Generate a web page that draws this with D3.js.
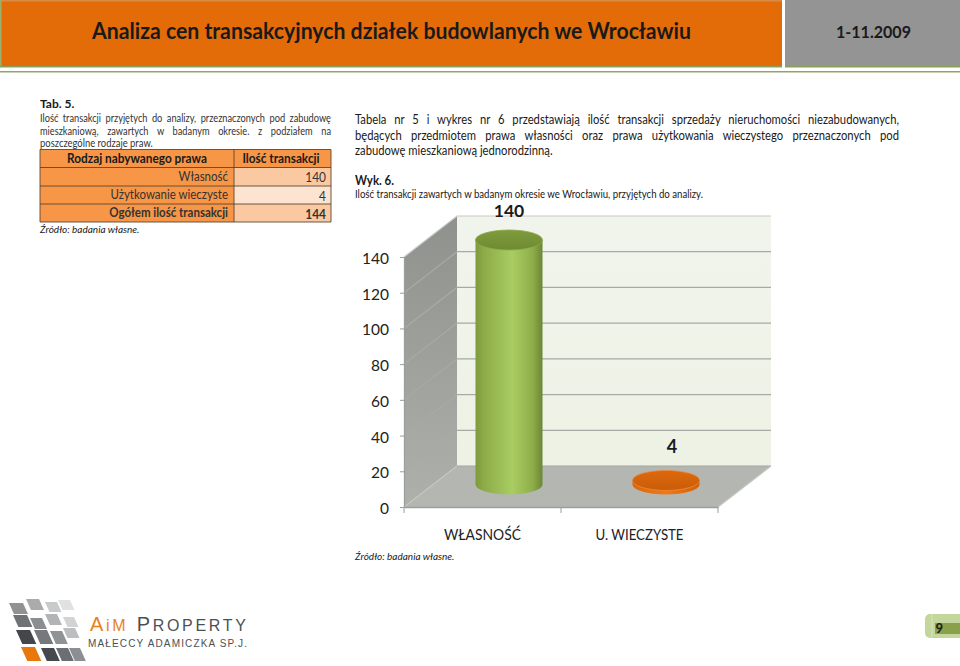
<!DOCTYPE html>
<html>
<head>
<meta charset="utf-8">
<script src="https://cdn.jsdelivr.net/npm/d3@7"></script>
<style>
  html, body { margin: 0; padding: 0; background: #fff; }
  svg { display: block; }
  text { font-family: Lato, "Open Sans", sans-serif; fill: #1a1a1a; }
</style>
</head>
<body>
<svg id="page" width="960" height="666"></svg>
<script>
// chart values
const categories = ["WŁASNOŚĆ", "U. WIECZYSTE"];
const values = [140, 4];
const yTicks = [0, 20, 40, 60, 80, 100, 120, 140];

// table values
const tableHeader = ["Rodzaj nabywanego prawa", "Ilość transakcji"];
const tableLabels = ["Własność", "Użytkowanie wieczyste", "Ogółem ilość transakcji"];
const tableValues = [140, 4, 144];

const svg = d3.select("#page");
const defs = svg.append("defs");

function gradient(id, stops, vertical) {
    const g = defs.append("linearGradient").attr("id", id)
        .attr("x1", 0).attr("y1", 0)
        .attr("x2", vertical ? 0 : 1).attr("y2", vertical ? 1 : 0);
    stops.forEach(s => g.append("stop").attr("offset", s[0]).attr("stop-color", s[1]));
}
gradient("greenBody", [[0, "#7d9a3d"], [0.12, "#8dab48"], [0.55, "#a9cd62"], [0.85, "#8fae4a"], [1, "#6d8635"]]);
gradient("greenCap", [[0, "#7f9b3c"], [1, "#6f8b33"]], true);
gradient("orangeBody", [[0, "#d9660c"], [0.5, "#f07a16"], [1, "#d2600a"]]);
gradient("orangeCap", [[0, "#dd690d"], [1, "#c95c08"]], true);
gradient("leftWall", [[0, "#8f918d"], [1, "#aeb0ac"]], true);
gradient("backWall", [[0, "#f1f4ec"], [1, "#edf2e4"]], true);

function label(x, y, str, size, opts) {
    opts = opts || {};
    const k = opts.squeeze || 1;
    const t = svg.append("text")
        .attr("transform", `translate(${x},${y}) scale(${k},1)`)
        .attr("text-anchor", opts.anchor || "start")
        .style("font-size", size + "px")
        .style("font-weight", opts.weight || 400)
        .style("font-style", opts.italic ? "italic" : "normal")
        .text(str);
    if (opts.fill) t.style("fill", opts.fill);
    if (opts.width) {
        t.attr("textLength", opts.width).attr("lengthAdjust", "spacingAndGlyphs");
    }
    if (opts.justify) {
        // stretch the gaps between words only, like justified text
        const gaps = str.split(" ").length - 1;
        t.style("word-spacing", (opts.justify / k - t.node().getComputedTextLength()) / gaps + "px");
    }
    return t;
}

// header bars
svg.append("rect").attr("x", 0).attr("y", 0).attr("width", 782).attr("height", 66).attr("fill", "#e36c09");
svg.append("rect").attr("x", 0).attr("y", 0).attr("width", 782).attr("height", 1.5).attr("fill", "#d98b45");
svg.append("rect").attr("x", 0).attr("y", 0).attr("width", 1.5).attr("height", 66).attr("fill", "#9bb06a");
svg.append("rect").attr("x", 0).attr("y", 66).attr("width", 782).attr("height", 1.5).attr("fill", "#8aa05a");
svg.append("rect").attr("x", 785).attr("y", 0).attr("width", 175).attr("height", 66).attr("fill", "#949494");
svg.append("rect").attr("x", 785).attr("y", 66).attr("width", 175).attr("height", 1.5).attr("fill", "#8aa05a");
svg.append("rect").attr("x", 0).attr("y", 71).attr("width", 960).attr("height", 1.5).attr("fill", "#8fa562");
label(92, 39, "Analiza cen transakcyjnych działek budowlanych we Wrocławiu", 22, { weight: 700, width: 599 });
label(836, 38, "1-11.2009", 17.5, { weight: 700, width: 75 });

// left text block
label(40, 108, "Tab. 5.", 12, { weight: 700 });
label(40, 122, "Ilość transakcji przyjętych do analizy, przeznaczonych pod zabudowę", 10.5, { justify: 291, fill: "#333", squeeze: 0.88 });
label(40, 134.5, "mieszkaniową, zawartych w badanym okresie. z podziałem na", 10.5, { justify: 291, fill: "#333", squeeze: 0.88 });
label(40, 147, "poszczególne rodzaje  praw.", 10.5, { fill: "#333", squeeze: 0.9 });

// table
const tableX = [40, 234, 331];
const rowY = [149.5, 167.5, 186, 204, 222];
const valueFills = ["#fbc9a1", "#fde4d1", "#fbc9a1"];

svg.append("rect").attr("x", tableX[0]).attr("y", rowY[0])
    .attr("width", tableX[2] - tableX[0]).attr("height", rowY[4] - rowY[0]).attr("fill", "#f79646");
svg.selectAll(".valueCell").data(tableValues).join("rect").attr("class", "valueCell")
    .attr("x", tableX[1]).attr("y", (d, i) => rowY[i + 1])
    .attr("width", tableX[2] - tableX[1]).attr("height", (d, i) => rowY[i + 2] - rowY[i + 1])
    .attr("fill", (d, i) => valueFills[i]);
svg.selectAll(".rowLine").data(rowY).join("line").attr("class", "rowLine")
    .attr("x1", tableX[0]).attr("x2", tableX[2]).attr("y1", d => d).attr("y2", d => d)
    .attr("stroke", "#5a4632").attr("stroke-width", 0.9);
svg.selectAll(".colLine").data(tableX).join("line").attr("class", "colLine")
    .attr("x1", d => d).attr("x2", d => d).attr("y1", rowY[0]).attr("y2", rowY[4])
    .attr("stroke", "#5a4632").attr("stroke-width", 0.9);

label(137, 162.5, tableHeader[0], 13, { weight: 700, anchor: "middle", squeeze: 0.91 });
label(281, 162.5, tableHeader[1], 13, { weight: 700, anchor: "middle", squeeze: 0.91 });
tableLabels.forEach((d, i) => {
    const bold = i === tableLabels.length - 1;
    label(228, rowY[i + 1] + 13, d, 12.5, { anchor: "end", weight: bold ? 700 : 400, fill: "#333", squeeze: 0.92 });
    label(326, rowY[i + 1] + 14.5, tableValues[i], 12.5, { anchor: "end", weight: bold ? 700 : 400, fill: "#333", squeeze: 0.95 });
});
label(40, 233, "Źródło: badania własne.", 10, { italic: true });

// right text block
label(355, 124, "Tabela nr 5 i wykres nr 6 przedstawiają ilość transakcji sprzedaży nieruchomości niezabudowanych,", 12.5, { justify: 544, squeeze: 0.9 });
label(355, 139.5, "będących przedmiotem prawa własności oraz prawa użytkowania wieczystego przeznaczonych pod", 12.5, { justify: 544, squeeze: 0.9 });
label(355, 154.5, "zabudowę mieszkaniową jednorodzinną.", 12.5, { squeeze: 0.9 });
label(355, 185, "Wyk. 6.", 12.5, { weight: 700, squeeze: 0.92 });
label(355, 198, "Ilość transakcji zawartych  w badanym okresie we Wrocławiu, przyjętych do analizy.", 10.5, { width: 348 });

// 3d chart box: front edge uses the scales, depth shifts towards the back wall
const depth = { x: 53, y: -41 };
const x = d3.scaleBand().domain(categories).range([404, 718]);
const y = d3.scaleLinear().domain([0, 140]).range([507, 257]);
const yBar = d3.scaleLinear().domain([0, 140]).range([484.5, 237]);
const x0 = x.range()[0], x1 = x.range()[1];
const yBase = y(0), yTop = y(140);
const pts = a => a.map(p => p.join(",")).join(" ");

svg.append("polygon")
    .attr("points", pts([[x0 + depth.x, yTop + depth.y], [x1 + depth.x, yTop + depth.y], [x1 + depth.x, yBase + depth.y], [x0 + depth.x, yBase + depth.y]]))
    .attr("fill", "url(#backWall)");
svg.append("polygon")
    .attr("points", pts([[x0, yTop], [x0 + depth.x, yTop + depth.y], [x0 + depth.x, yBase + depth.y], [x0, yBase]]))
    .attr("fill", "url(#leftWall)");
svg.append("polygon")
    .attr("points", pts([[x0, yBase], [x0 + depth.x, yBase + depth.y], [x1 + depth.x, yBase + depth.y], [x1, yBase]]))
    .attr("fill", "#b4b6b2");

// gridlines on both walls
const grid = svg.append("g").attr("fill", "none").attr("stroke-width", 1.2);
grid.selectAll("polyline").data(yTicks.slice(1)).join("polyline")
    .attr("points", d => pts([[x0, y(d)], [x0 + depth.x, y(d) + depth.y], [x1 + depth.x, y(d) + depth.y]]))
    .attr("stroke", d => d === 140 ? "#c9cbc6" : "#a8aaa5");
grid.append("line").attr("x1", x0).attr("y1", yBase).attr("x2", x0 + depth.x).attr("y2", yBase + depth.y).attr("stroke", "#c4c6c2");
grid.append("line").attr("x1", x0 + depth.x).attr("y1", yBase + depth.y).attr("x2", x1 + depth.x).attr("y2", yBase + depth.y).attr("stroke", "#a3a5a1");
grid.append("line").attr("x1", x1).attr("y1", yBase).attr("x2", x1 + depth.x).attr("y2", yBase + depth.y).attr("stroke", "#c4c6c2");

// axes
const catWidths = [77, 88];
const yAxis = svg.append("g").attr("transform", `translate(${x0},0)`)
    .call(d3.axisLeft(y).tickValues(yTicks).tickSize(4).tickPadding(11).tickSizeOuter(0));
const xAxis = svg.append("g").attr("transform", `translate(0,${yBase})`)
    .call(d3.axisBottom(x).tickSize(0).tickPadding(22));
[yAxis, xAxis].forEach(a => {
    a.select(".domain").attr("stroke", "#9c9e9a").attr("stroke-width", 1.3);
    a.selectAll(".tick line").attr("stroke", "#9c9e9a");
    a.selectAll("text").style("font-family", "Lato, sans-serif").style("font-size", "15.5px").style("fill", "#222");
});
yAxis.selectAll("text").attr("dy", "0.42em");
xAxis.selectAll("text")
    .attr("textLength", (d, i) => catWidths[i]).attr("lengthAdjust", "spacingAndGlyphs");
xAxis.selectAll(".edgeTick").data([x0, x(categories[1]), x1]).join("line").attr("class", "edgeTick")
    .attr("x1", d => d).attr("x2", d => d).attr("y1", 0).attr("y2", 6).attr("stroke", "#9c9e9a");

// cylinders
const rx = 33.5, ry = 10;
const barFills = [["url(#greenBody)", "url(#greenCap)", "#8aa84a"], ["url(#orangeBody)", "url(#orangeCap)", "#ee8a35"]];
const bars = svg.selectAll(".bar").data(values).join("g").attr("class", "bar")
    .attr("transform", (d, i) => `translate(${x(categories[i]) + x.bandwidth() / 2 + depth.x / 2},0)`);
bars.append("path")
    .attr("d", d => `M${-rx},${yBar(d) + 3} L${-rx},${yBar(0)} A${rx},${ry} 0 0 0 ${rx},${yBar(0)} L${rx},${yBar(d) + 3} Z`)
    .attr("fill", (d, i) => barFills[i][0]);
bars.append("ellipse")
    .attr("cy", d => yBar(d) + 3).attr("rx", rx).attr("ry", ry)
    .attr("fill", (d, i) => barFills[i][1])
    .attr("stroke", (d, i) => barFills[i][2]).attr("stroke-width", 0.8);

// value labels
const labelY = [217, 453];
values.forEach((d, i) => {
    label(x(categories[i]) + x.bandwidth() / 2 + depth.x / 2 + (i ? 6 : 0), labelY[i], d, i ? 18 : 17.5, { weight: 700, anchor: "middle" });
});

label(355, 560, "Źródło: badania własne.", 10, { italic: true });

// logo tiles
const logoTiles = [
    [21, 647, 14, 14, "#e8780c"], [41, 648, 13, 13, "#45494f"], [56, 648, 12, 13, "#6b6e72"], [69, 648, 11, 13, "#8c8f92"],
    [16, 630, 14, 14, "#43474c"], [34, 630, 13, 14, "#75787c"], [50, 631, 12, 13, "#909395"], [63, 628, 12, 10, "#bcbec0"],
    [13, 615, 14, 12, "#707376"], [30, 618, 12, 11, "#8b8e90"], [45, 614, 12, 11, "#b2b4b5"], [63, 617, 11, 10, "#d2d3d4"],
    [9, 603, 14, 11, "#909294"], [26, 599, 13, 11, "#a9abac"], [45, 602, 12, 10, "#c9cacb"], [58, 600, 12, 10, "#e0e1e1"]
];
svg.selectAll(".tile").data(logoTiles).join("polygon").attr("class", "tile")
    .attr("points", d => pts([[d[0], d[1]], [d[0] + d[2], d[1]], [d[0] + d[2] + d[3] * 0.45, d[1] + d[3]], [d[0] + d[3] * 0.45, d[1] + d[3]]]))
    .attr("fill", d => d[4]);

const logoName = svg.append("text").attr("x", 90).attr("y", 631)
    .style("font-family", "'Liberation Sans', sans-serif").style("font-size", "16px")
    .attr("textLength", 156).attr("lengthAdjust", "spacing");
logoName.append("tspan").style("fill", "#e8821e").style("font-size", "20px").text("A");
logoName.append("tspan").style("fill", "#e8821e").text("i");
logoName.append("tspan").style("fill", "#e8821e").text("M");
logoName.append("tspan").style("fill", "#4d5053").style("font-size", "20px").text(" P");
logoName.append("tspan").style("fill", "#4d5053").text("ROPERTY");
svg.append("text").attr("x", 88).attr("y", 647)
    .style("font-family", "'Liberation Sans', sans-serif").style("font-size", "10px").style("fill", "#4d5053")
    .attr("textLength", 159).attr("lengthAdjust", "spacing")
    .text("MAŁECCY ADAMICZKA SP.J.");

// page number badge
svg.append("rect").attr("x", 925).attr("y", 614).attr("width", 50).attr("height", 24).attr("rx", 5).attr("fill", "#c3d69b");
svg.append("rect").attr("x", 935).attr("y", 623).attr("width", 25).attr("height", 11).attr("fill", "#8aa04a");
svg.append("line").attr("x1", 932).attr("x2", 932).attr("y1", 614).attr("y2", 638).attr("stroke", "#d8e4bf");
label(935.5, 633, "9", 13, { weight: 700 });
</script>
</body>
</html>
